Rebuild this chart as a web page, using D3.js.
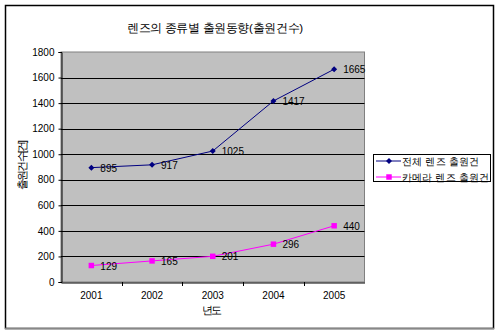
<!DOCTYPE html>
<html><head><meta charset="utf-8">
<script src="https://cdn.jsdelivr.net/npm/d3@7"></script>
<style>body{margin:0;background:#fff}svg{display:block}text{font-family:Arial,"Liberation Sans",sans-serif}</style>
</head><body>
<script>
const years = ["2001","2002","2003","2004","2005"];
const totalLens = [895, 917, 1025, 1417, 1665];
const cameraLens = [129, 165, 201, 296, 440];
const yTicks = [0,200,400,600,800,1000,1200,1400,1600,1800];
const seriesNames = ["전체 렌즈 출원건", "카메라 렌즈 출원건"];
const title = "렌즈의 종류별 출원동향(출원건수)";

const W=500,H=336;
const svg=d3.select("body").append("svg").attr("width",W).attr("height",H);
const kr='"Noto Sans CJK KR", sans-serif';

svg.append("rect").attr("x",5.5).attr("y",5.5).attr("width",488).attr("height",323)
  .attr("fill","#fff").attr("stroke","#000").attr("stroke-width",1.5);
svg.append("line").attr("x1",5).attr("x2",494).attr("y1",328.5).attr("y2",328.5).attr("stroke","#888").attr("stroke-width",1.5);

const L=61,R=364.5,T=52,B=282;
const x=d3.scaleBand().domain(years).range([L,R]);
const y=d3.scaleLinear().domain([0,1800]).range([B,T]);

svg.append("rect").attr("x",L).attr("y",T).attr("width",R-L).attr("height",B-T).attr("fill","#c0c0c0").attr("stroke","#808080");
svg.append("g").selectAll("line").data(yTicks.filter(d=>d>0&&d<1800)).join("line")
  .attr("x1",L).attr("x2",R).attr("y1",d=>Math.round(y(d))+0.5).attr("y2",d=>Math.round(y(d))+0.5).attr("stroke","#000");

const ya=svg.append("g").attr("transform",`translate(${L+0.5},0)`)
  .call(d3.axisLeft(y).tickValues(yTicks).tickSize(3).tickPadding(4).tickFormat(d3.format("d")));
ya.select(".domain").attr("stroke","#000");
ya.selectAll("text").attr("font-size",10).attr("fill","#000").attr("font-family","Arial, 'Liberation Sans', sans-serif");
const xa=svg.append("g").attr("transform",`translate(0,${B+0.5})`)
  .call(d3.axisBottom(x).tickSize(0).tickPadding(9));
xa.select(".domain").attr("stroke","#000");
xa.selectAll("text").attr("font-size",10).attr("fill","#000").attr("font-family","Arial, 'Liberation Sans', sans-serif");
svg.append("g").selectAll("line").data(years.slice(1)).join("line")
  .attr("x1",d=>Math.round(x(d))+0.5).attr("x2",d=>Math.round(x(d))+0.5).attr("y1",B).attr("y2",B+4).attr("stroke","#000");

const cx=d=>x(d)+x.bandwidth()/2;
const series=[{v:totalLens,c:"#000080",m:"diamond"},{v:cameraLens,c:"#ff00ff",m:"square"}];
const markerPath=m=>m==="diamond"?d3.symbol(d3.symbolSquare,18)():d3.symbol(d3.symbolSquare,30)();
series.forEach(s=>{
  const pts=years.map((yr,i)=>[cx(yr),y(s.v[i])]);
  svg.append("path").attr("d",d3.line()(pts)).attr("fill","none").attr("stroke",s.c).attr("stroke-width",1);
  svg.append("g").selectAll("path").data(pts).join("path")
    .attr("transform",p=>`translate(${p[0]},${p[1]})${s.m==="diamond"?" rotate(45)":""}`)
    .attr("d",markerPath(s.m)).attr("fill",s.c);
  svg.append("g").selectAll("text").data(pts).join("text")
    .attr("x",p=>p[0]+9).attr("y",p=>p[1]+4).attr("font-size",10).attr("fill","#000")
    .text((p,i)=>s.v[i]);
});

svg.append("text").attr("x",127).attr("y",32).attr("font-size",11.5).attr("textLength",176)
  .attr("font-family",kr).text(title);
svg.append("text").attr("x",202).attr("y",314).attr("font-size",11).attr("textLength",20)
  .attr("font-family",kr).text("년도");
svg.append("text").attr("transform","translate(26,190) rotate(-90)").attr("font-size",10.5).attr("textLength",50)
  .attr("font-family",kr).text("출원건수[건]");

const lg=svg.append("g");
lg.append("rect").attr("x",373.5).attr("y",154.5).attr("width",117).attr("height",27).attr("fill","#fff").attr("stroke","#000");
const legLen=[77,87];
series.forEach((s,i)=>{
  const yy=161+i*16;
  lg.append("line").attr("x1",376).attr("x2",401).attr("y1",yy).attr("y2",yy).attr("stroke",s.c);
  lg.append("path").attr("transform",`translate(389,${yy})${s.m==="diamond"?" rotate(45)":""}`)
    .attr("d",markerPath(s.m)).attr("fill",s.c);
  lg.append("text").attr("x",402).attr("y",yy+4).attr("font-size",10).attr("textLength",legLen[i])
    .attr("font-family",kr).text(seriesNames[i]);
});
</script>
</body></html>
